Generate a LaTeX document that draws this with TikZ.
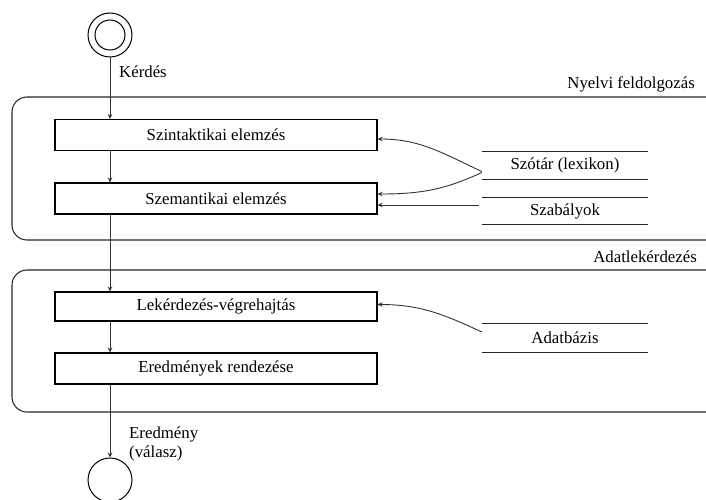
\documentclass[tikz,border=0pt]{standalone}
\usepackage{fontspec}
\setmainfont{Liberation Serif}
\newfontfamily\diagfont{Liberation Serif}
\usetikzlibrary{arrows.meta,calc}

\newcommand{\labelfont}{\diagfont\fontsize{16.8}{19}\selectfont}

\tikzset{
  conn/.style={draw=black!80, line width=0.9pt, -{Stealth[length=5pt,width=4.5pt]}},
  stepbox/.style={draw=black, line width=1.05pt, minimum width=322pt, minimum height=31pt,
                  inner sep=0pt, font=\labelfont},
  group/.style={draw=black!85, line width=1.05pt, rounded corners=15pt},
  store/.style={minimum width=166pt, minimum height=27pt, inner sep=0pt,
                font=\labelfont,
                append after command={
                  (\tikzlastnode.north west) edge[draw=black!85, line width=1.05pt] (\tikzlastnode.north east)
                  (\tikzlastnode.south west) edge[draw=black!85, line width=1.05pt] (\tikzlastnode.south east)}},
  lbl/.style={font=\labelfont, inner sep=0pt},
  state/.style={circle, draw=black, line width=1pt, inner sep=0pt}
}

\begin{document}
\begin{tikzpicture}[x=1pt,y=-1pt]
\useasboundingbox (0,0) rectangle (706,500);
\clip (0,0) rectangle (706,500);

% group frames
\draw[group] (12,97) rectangle (722,240);
\draw[group] (12,270) rectangle (722,412);
\node[lbl, anchor=east] (nyelvi) at (695,84) {Nyelvi feldolgozás};
\node[lbl, anchor=east] (adatlek) at (697,257) {Adatlekérdezés};

% start and end states
\node[state, minimum size=44pt] (start) at (110,35) {};
\node[state, minimum size=30pt] (startin) at (110,35) {};
\node[state, minimum size=44pt] (end) at (110,480) {};

% processing steps
\node[stepbox] (b1) at (216,135) {Szintaktikai elemzés};
\node[stepbox] (b2) at (216,198.5) {Szemantikai elemzés};
\node[stepbox, minimum height=29pt] (b3) at (216,306.5) {Lekérdezés-végrehajtás};
\node[stepbox] (b4) at (216,368.5) {Eredmények rendezése};

% data stores
\node[store] (lex) at (565,165.5) {Szótár (lexikon)};
\node[store, minimum height=26pt] (rules) at (565,211) {Szabályok};
\node[store, minimum height=28pt] (db) at (565,338) {Adatbázis};

% flow labels
\node[lbl, anchor=west] (q) at (119,72) {Kérdés};
\node[lbl, anchor=north west, align=left] (ans) at (129,427) {Eredmény\\(válasz)};

% main flow
\draw[conn] (start.south) -- (start.south |- b1.north);
\draw[conn] (start.south |- b1.south) -- (start.south |- b2.north);
\draw[conn] (start.south |- b2.south) -- (start.south |- b3.north);
\draw[conn] (start.south |- b3.south) -- (start.south |- b4.north);
\draw[conn] (start.south |- b4.south) -- (end.north);

% data inputs
\draw[conn] ([yshift=-6pt]lex.west) to[out=155,in=0] ([yshift=-4pt]b1.east);
\draw[conn] ([yshift=-7pt]lex.west) to[out=-155,in=0] ([yshift=4.5pt]b2.east);
\draw[conn] ([xshift=-3pt,yshift=6pt]rules.west) -- ([yshift=-6.5pt]b2.east);
\draw[conn] ([yshift=6pt]db.west) to[out=155,in=0] ([yshift=2pt]b3.east);
\end{tikzpicture}
\end{document}
